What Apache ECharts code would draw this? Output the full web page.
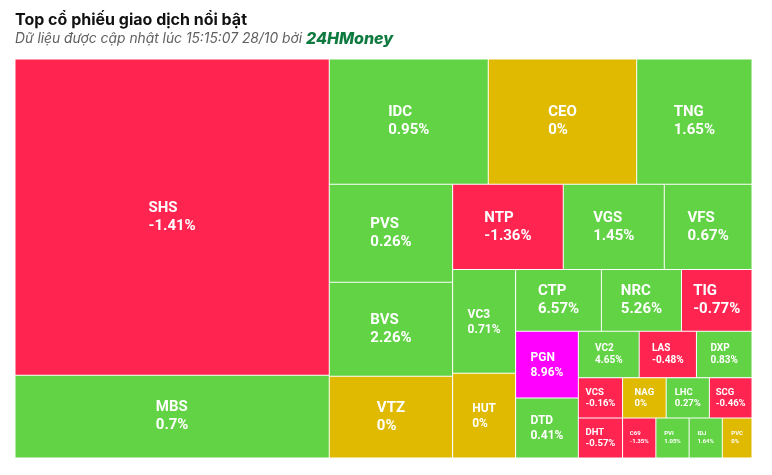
<!DOCTYPE html>
<html>
<head>
<meta charset="utf-8">
<script src="https://cdn.jsdelivr.net/npm/echarts@6/dist/echarts.min.js"></script>
<style>
html,body{margin:0;padding:0;background:#fff;}
#chart{width:772px;height:475px;}
</style>
</head>
<body>
<div id="chart"></div>
<script>
// ---------------- data ----------------
const titleText = 'Top cổ phiếu giao dịch nổi bật';
const subtitleText = 'Dữ liệu được cập nhật lúc 15:15:07 28/10 bởi ';
const brandText = '24HMoney';

const tickers    = ['SHS','MBS','IDC','CEO','TNG','PVS','BVS','VTZ','NTP','VGS','VFS','VC3','HUT','CTP','NRC','TIG','PGN','DTD','VC2','LAS','DXP','VCS','DHT','NAG','LHC','SCG','C69','PVI','IDJ','PVC'];
const changePct  = [-1.41, 0.7, 0.95, 0, 1.65, 0.26, 2.26, 0, -1.36, 1.45, 0.67, 0.71, 0, 6.57, 5.26, -0.77, 8.96, 0.41, 4.65, -0.48, 0.83, -0.16, -0.57, 0, 0.27, -0.46, -1.35, 1.05, 1.64, 0];
const tradeValue = [99413, 25993, 19923, 18595, 14447, 12081, 11612, 10082, 9423, 8605, 7472, 6539, 5336, 5302, 4944, 4357, 4189, 3768, 2839, 2671, 2592, 1772, 1772, 1748, 1732, 1708, 1336, 1332, 1330, 1190];
const ceilingTickers = ['PGN'];

// grouping of tickers into nested blocks (order kept, no sorting)
const blockTree = [
  ['SHS','MBS'],
  [['IDC','CEO','TNG'],
   ['PVS','BVS','VTZ',
    [['NTP','VGS','VFS'],
     ['VC3','HUT',
      [['CTP','NRC','TIG'],
       ['PGN','DTD',
        [['VC2','LAS','DXP'],
         [['VCS','DHT'],
          [['NAG','LHC','SCG'],
           ['C69', ['PVI', ['IDJ','PVC']]]]]]]]]]]]
];

// ---------------- styles ----------------
const COLOR_UP = '#61d344', COLOR_DOWN = '#ff2550', COLOR_FLAT = '#dfba00', COLOR_CEIL = '#ff00ff';
const FONT = 'Roboto';
const TITLE_FONT = 'Inter';
const labelTiers = {
  big:   {fs: 15,  lh: 18,   dy: 0, names: ['SHS','MBS','IDC','CEO','TNG','PVS','BVS','VTZ','NTP','VGS','VFS','CTP','NRC','TIG']},
  mid:   {fs: 12,  lh: 15,   dy: 1, names: ['VC3','HUT','PGN','DTD']},
  small: {fs: 10,  lh: 11.5, dy: 0, names: ['VC2','LAS','DXP']},
  xs:    {fs: 9.5, lh: 10.5, dy: 0, names: ['VCS','DHT','NAG','LHC','SCG']},
  tiny:  {fs: 6,   lh: 8,    dy: 0, names: ['C69','PVI','IDJ','PVC']}
};
function tierOf(name) {
  for (const k in labelTiers) if (labelTiers[k].names.indexOf(name) >= 0) return labelTiers[k];
  return labelTiers.big;
}
const pctText = p => String(p) + '%';
const canvas = document.createElement('canvas');
const ctx = canvas.getContext('2d');
const labelInfo = {};
tickers.forEach((t, i) => {
  const tier = tierOf(t);
  ctx.font = 'bold ' + tier.fs + 'px ' + FONT;
  const w = Math.max(ctx.measureText(t).width, ctx.measureText(pctText(changePct[i])).width);
  labelInfo[t] = {w: w, lh: tier.lh, fs: tier.fs, dy: tier.dy};
});

function colorOf(i) {
  if (ceilingTickers.indexOf(tickers[i]) >= 0) return COLOR_CEIL;
  const p = changePct[i];
  return p > 0 ? COLOR_UP : (p < 0 ? COLOR_DOWN : COLOR_FLAT);
}

function build(spec) {
  if (typeof spec === 'string') {
    const i = tickers.indexOf(spec);
    const info = labelInfo[spec];
    return {
      name: spec,
      value: tradeValue[i],
      itemStyle: {color: colorOf(i), borderWidth: 0.5, borderColor: '#ffffff'},
      label: {fontSize: info.fs, lineHeight: info.lh}
    };
  }
  return {name: '', children: spec.map(build), itemStyle: {borderWidth: 0, gapWidth: 0}};
}

const chart = echarts.init(document.getElementById('chart'), null, {renderer: 'canvas'});
chart.setOption({
  animation: false,
  backgroundColor: '#ffffff',
  title: {
    text: titleText,
    subtext: '{a|' + subtitleText + '}{b|' + brandText + '}',
    left: 15, top: 12, padding: 0, itemGap: 3,
    textStyle: {fontFamily: TITLE_FONT, fontSize: 16, fontWeight: 'bold', color: '#111111'},
    subtextStyle: {
      rich: {
        a: {fontFamily: TITLE_FONT, fontSize: 13.8, fontStyle: 'italic', color: '#5f5f5f'},
        b: {fontFamily: TITLE_FONT, fontSize: 16, fontStyle: 'italic', fontWeight: 800, color: '#0f7a3f'}
      }
    }
  },
  series: [{
    type: 'treemap',
    left: 15, top: 59, width: 737, height: 399,
    squareRatio: 1.637,
    sort: false,
    roam: false,
    nodeClick: false,
    breadcrumb: {show: false},
    itemStyle: {borderWidth: 0, gapWidth: 0, borderColor: '#ffffff'},
    upperLabel: {show: false},
    label: {
      show: true, color: '#ffffff', fontFamily: FONT, fontWeight: 'bold', padding: 0,
      formatter: function (p) {
        const i = tickers.indexOf(p.name);
        return i < 0 ? '' : p.name + '\n' + pctText(changePct[i]);
      }
    },
    labelLayout: function (p) {
      const name = String(p.text || '').split('\n')[0];
      const info = labelInfo[name];
      if (!info) return {};
      const r = p.rect;
      return {
        x: r.x + r.width / 2 - info.w / 2,
        y: r.y + r.height / 2 - info.lh + info.dy,
        align: 'left',
        verticalAlign: 'top'
      };
    },
    data: blockTree.map(build)
  }]
});
</script>
</body>
</html>
